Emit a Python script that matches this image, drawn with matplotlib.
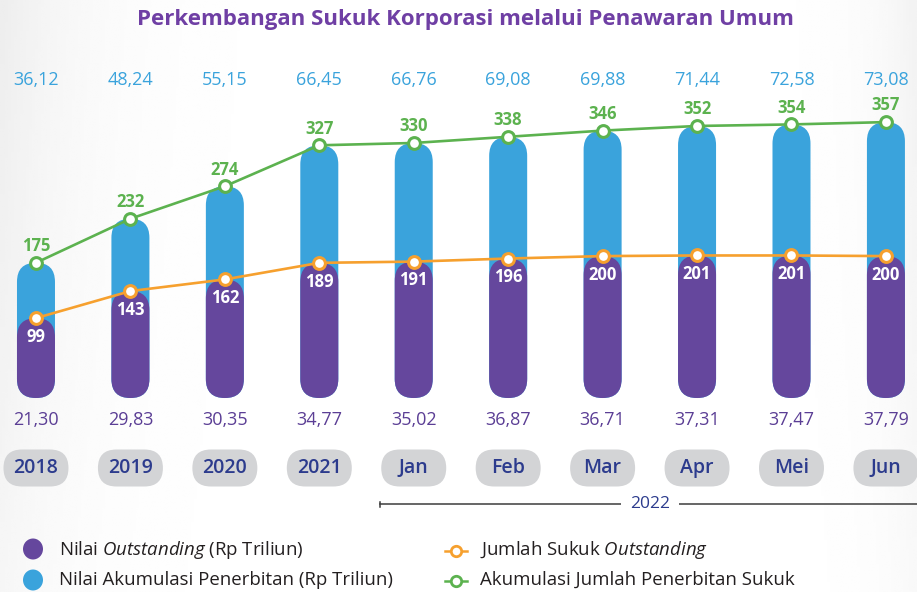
import matplotlib
matplotlib.use("Agg")
import matplotlib.pyplot as plt
import numpy as np
from matplotlib import font_manager
from matplotlib.lines import Line2D
from matplotlib.patches import Ellipse, FancyBboxPatch
from matplotlib.transforms import IdentityTransform, blended_transform_factory

# data
periods = ["2018", "2019", "2020", "2021", "Jan", "Feb", "Mar", "Apr", "Mei", "Jun"]
nilai_akumulasi = [36.12, 48.24, 55.15, 66.45, 66.76, 69.08, 69.88, 71.44, 72.58, 73.08]
nilai_outstanding = [21.30, 29.83, 30.35, 34.77, 35.02, 36.87, 36.71, 37.31, 37.47, 37.79]
jumlah_outstanding = [99, 143, 162, 189, 191, 196, 200, 201, 201, 200]
akumulasi_jumlah = [175, 232, 274, 327, 330, 338, 346, 352, 354, 357]
year_group = "2022"

PURPLE = "#65479d"
BLUE = "#3aa3dc"
GREEN = "#5cb24f"
ORANGE = "#f6a02e"
TITLE_PURPLE = "#6f3fa4"
VALUE_PURPLE = "#5b3e95"
NAVY = "#2c3b8d"
PILL_GREY = "#d3d4d6"


def pick_font(names, default="DejaVu Sans"):
    for name in names:
        try:
            font_manager.findfont(font_manager.FontProperties(family=name),
                                  fallback_to_default=False)
            return name
        except ValueError:
            pass
    return default


MAIN_FONT = pick_font(["Open Sans", "Noto Sans"])

plt.rcParams["mathtext.fontset"] = "custom"
plt.rcParams["mathtext.rm"] = MAIN_FONT
plt.rcParams["mathtext.it"] = MAIN_FONT + ":italic"

W, H, DPI = 917, 592, 100
fig = plt.figure(figsize=(W / DPI, H / DPI), dpi=DPI)


def fy(px):
    # pixel row from the top -> figure fraction
    return 1 - px / H


# soft grey background at the edges
bg = fig.add_axes([0, 0, 1, 1], zorder=0)
gx = np.linspace(0, 1, 300)
gy = np.linspace(0, 1, 200)[:, None]
shade = 0.07 * np.exp(-gx / 0.09) + 0.05 * np.exp(-(1 - gx) / 0.05)
shade = shade * (1.0 - 0.5 * gy)
bg.imshow(1 - shade, cmap="gray", vmin=0, vmax=1, extent=[0, 1, 0, 1],
          aspect="auto", interpolation="bilinear")
bg.axis("off")

ax = fig.add_axes([0, 0, 1, 1], zorder=1)
ax.set_facecolor("none")
ax.set_xlim(-0.381, 9.329)
ax.set_ylim(-251, 515)
ax.axis("off")
ax2 = ax.twinx()
ax2.set_ylim(-347, 617)
ax2.axis("off")

x = np.arange(len(periods))
row = blended_transform_factory(ax.transData, fig.transFigure)


def capsule(target, x0, y0, w, h, color, z=1):
    patch = FancyBboxPatch((x0, y0), w, h,
                           boxstyle=f"round,pad=0,rounding_size={min(w, h) / 2}",
                           transform=IdentityTransform(), fc=color, ec="none",
                           zorder=z, clip_on=False)
    target.add_artist(patch)


BAR_W = 38
for i in x:
    xpx, base = ax.transData.transform((i, 0))
    top_blue = ax.transData.transform((i, akumulasi_jumlah[i]))[1]
    top_purple = ax2.transData.transform((i, jumlah_outstanding[i]))[1]
    capsule(ax, xpx - BAR_W / 2, base, BAR_W, top_blue - base, BLUE)
    capsule(ax2, xpx - BAR_W / 2, base, BAR_W, top_purple - base, PURPLE)
    # category pill
    capsule(ax, xpx - 32.5, H - 468 - 18.5, 65, 37, PILL_GREY)

ax.plot(x, akumulasi_jumlah, color=GREEN, lw=1.9, marker="o", ms=8.5,
        mfc="white", mec=GREEN, mew=2.2, zorder=3, clip_on=False)
ax2.plot(x, jumlah_outstanding, color=ORANGE, lw=1.9, marker="o", ms=8.5,
         mfc="white", mec=ORANGE, mew=2.2, zorder=3, clip_on=False)

for i in x:
    ax.annotate(str(akumulasi_jumlah[i]), (i, akumulasi_jumlah[i]), xytext=(0, 12),
                textcoords="offset points", ha="center", va="center",
                fontsize=12, fontweight="bold", color=GREEN, family=MAIN_FONT)
    ax2.annotate(str(jumlah_outstanding[i]), (i, jumlah_outstanding[i]), xytext=(0, -13.5),
                 textcoords="offset points", ha="center", va="center",
                 fontsize=12, fontweight="bold", color="white", family=MAIN_FONT,
                 zorder=4)
    ax.text(i, fy(80), f"{nilai_akumulasi[i]:.2f}".replace(".", ","), transform=row,
            ha="center", va="center", fontsize=13, color=BLUE, family=MAIN_FONT)
    ax.text(i, fy(420), f"{nilai_outstanding[i]:.2f}".replace(".", ","), transform=row,
            ha="center", va="center", fontsize=13, color=VALUE_PURPLE, family=MAIN_FONT)
    ax.text(i, fy(468), periods[i], transform=row, ha="center", va="center",
            fontsize=14, fontweight="semibold", color=NAVY, family=MAIN_FONT, zorder=3)

# 2022 bracket under the monthly pills
ax.plot([3.64, 9.4], [fy(504), fy(504)], transform=row, color="#3c3c3c", lw=1.1,
        clip_on=False)
ax.plot([3.64, 3.64], [fy(501.5), fy(506.5)], transform=row, color="#3c3c3c", lw=1.1,
        clip_on=False)
ax.text(6.5, fy(503.5), year_group, transform=row, ha="center", va="center",
        fontsize=12.5, color=NAVY, family=MAIN_FONT,
        bbox=dict(boxstyle="square,pad=0.5", fc="white", ec="none"))

fig.text(465 / W, fy(19), "Perkembangan Sukuk Korporasi melalui Penawaran Umum",
         ha="center", va="center", fontsize=16, fontweight="bold",
         color=TITLE_PURPLE, family=MAIN_FONT)

# legend, drawn by hand
fig.add_artist(Ellipse((33, H - 549), 20, 21, transform=IdentityTransform(),
                       fc=PURPLE, ec="none"))
fig.add_artist(Ellipse((33, H - 580), 20, 21, transform=IdentityTransform(),
                       fc=BLUE, ec="none"))
legend_kw = dict(ha="left", va="center", fontsize=13.4, family=MAIN_FONT, color="#231f20")
fig.text(59 / W, fy(550), "Nilai $\\mathit{Outstanding}$ (Rp Triliun)", **legend_kw)
fig.text(59 / W, fy(580), "Nilai Akumulasi Penerbitan (Rp Triliun)", **legend_kw)
for ypx, color in [(551, ORANGE), (581, GREEN)]:
    fig.add_artist(Line2D([445 / W, 456 / W, 467 / W], [fy(ypx)] * 3,
                          transform=fig.transFigure, color=color, lw=1.8,
                          marker="o", markevery=[1], ms=7.5, mfc="white",
                          mec=color, mew=2))
fig.text(480 / W, fy(550), "Jumlah Sukuk $\\mathit{Outstanding}$", **legend_kw)
fig.text(480 / W, fy(580), "Akumulasi Jumlah Penerbitan Sukuk", **legend_kw)

fig.savefig("out.png", dpi=DPI)
